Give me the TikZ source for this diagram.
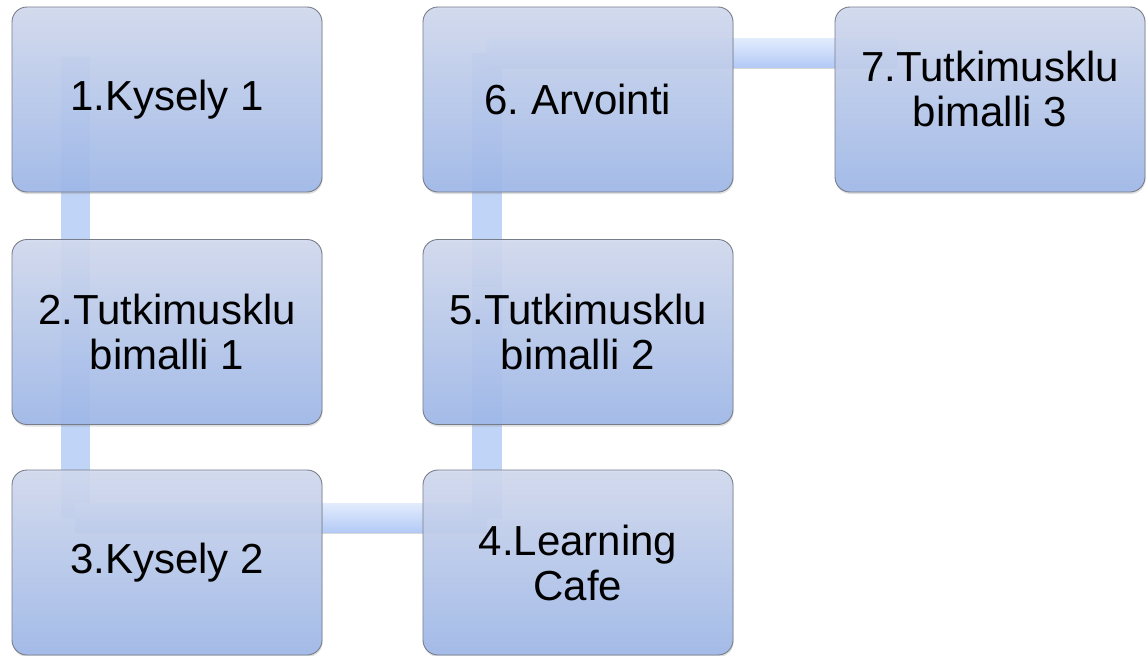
\documentclass[tikz,border=0pt]{standalone}
\usepackage{fontspec}
\newfontfamily\boxfont{Liberation Sans}
\usetikzlibrary{calc,shadows}
\frenchspacing
\definecolor{boxtop}{RGB}{210,218,239}
\definecolor{boxbot}{RGB}{158,184,234}
\definecolor{boxline}{RGB}{118,124,136}
\definecolor{barlight}{RGB}{226,236,253}
\definecolor{bardark}{RGB}{180,202,246}
\definecolor{barmid}{RGB}{192,212,248}
\begin{document}
\begin{tikzpicture}[x=1pt,y=-1pt,
  stage/.style={rectangle, rounded corners=15pt, minimum width=310pt,
    minimum height=185pt, draw=boxline, line width=0.9pt,
    top color=boxtop, bottom color=boxbot, fill opacity=0.9, text opacity=1,
    align=center, inner sep=0pt,
    font=\boxfont\fontsize{42}{45}\selectfont\frenchspacing,
    drop shadow={shadow xshift=0.6pt, shadow yshift=-2pt, opacity=0.25}},
  label/.style={align=center, inner sep=0pt,
    font=\boxfont\fontsize{42}{45}\selectfont\frenchspacing},
  hbar/.style={top color=barlight, bottom color=bardark,
    drop shadow={shadow xshift=0pt, shadow yshift=-1.5pt, opacity=0.3}},
  vbar/.style={fill=barmid,
    drop shadow={shadow xshift=0pt, shadow yshift=-1.5pt, opacity=0.2}}]

\useasboundingbox (0,0) rectangle (1146,656);
\fill[white] (0,0) rectangle (1146,656);

% stage positions (centres)
\coordinate (p1) at (167,99.5);
\coordinate (p2) at (167,332);
\coordinate (p3) at (167,562.5);
\coordinate (p4) at (578,562.5);
\coordinate (p5) at (578,332);
\coordinate (p6) at (578,99.5);
\coordinate (p7) at (990,99.5);

% connector bars, drawn beneath the stages
\fill[vbar] ($(p1)+(-106,-42.5)$) rectangle ($(p2)+(-77,-47)$);
\fill[vbar] ($(p2)+(-106,-47)$) rectangle ($(p3)+(-77,-45)$);
\fill[hbar] ($(p3)+(-91.5,-59.5)$) rectangle ($(p4)+(-91,-30.5)$);
\fill[vbar] ($(p4)+(-106,-45)$) rectangle ($(p5)+(-76,-47)$);
\fill[vbar] ($(p5)+(-106,-47)$) rectangle ($(p6)+(-76,-46.5)$);
\fill[hbar] ($(p6)+(-91,-61.5)$) rectangle ($(p7)+(-92,-32.5)$);

% stages
\node[stage] (b1) at (p1) {1.Kysely 1};
\node[stage] (b2) at (p2) {2.Tutkimusklu\\bimalli 1};
\node[stage] (b3) at (p3) {3.Kysely 2};
\node[stage] (b4) at (p4) {4.Learning\\Cafe};
\node[stage] (b5) at (p5) {5.Tutkimusklu\\bimalli 2};
\node[stage] (b6) at (p6) {6. Arvointi};
\node[stage] (b7) at (p7) {};
\node[label] (t7) at ($(b7.center)+(0,-11)$) {7.Tutkimusklu\\bimalli 3};
\end{tikzpicture}
\end{document}
